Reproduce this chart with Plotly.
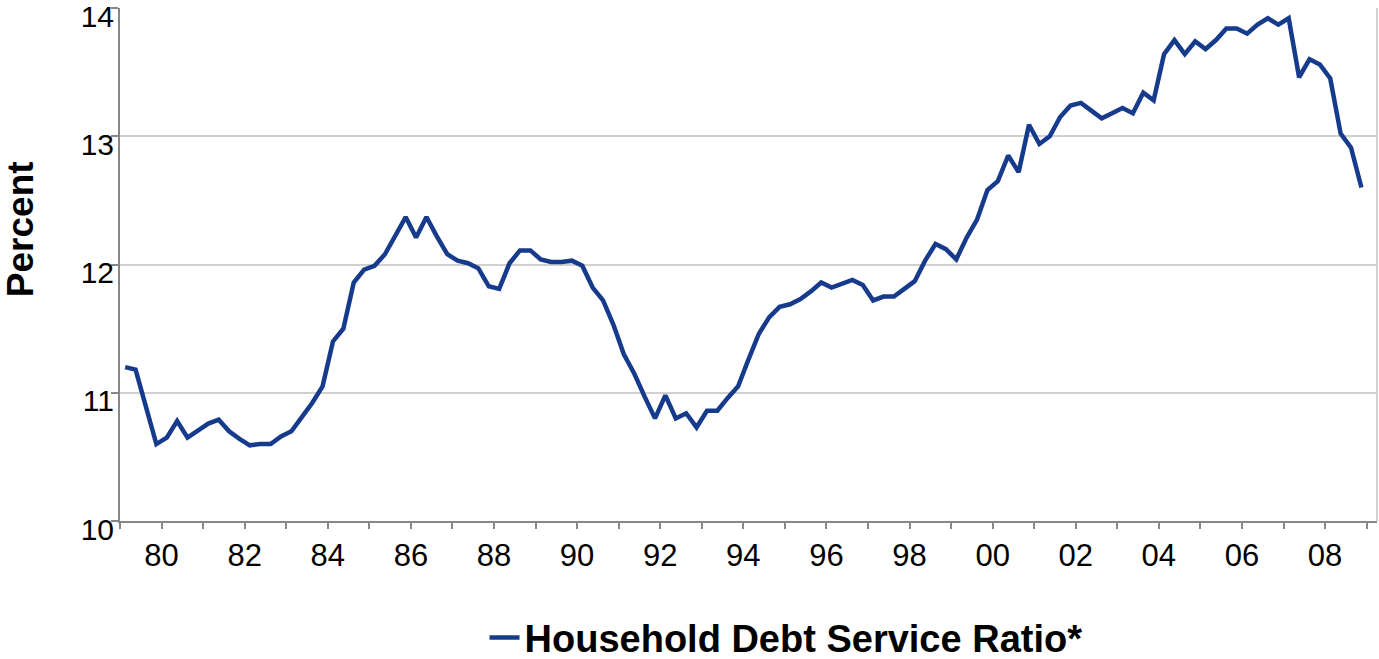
import plotly.graph_objects as go

# Household debt service ratio, quarterly, 1979Q1 - 2008Q4 (percent)
start_year = 1979
ratio = [
    11.20, 11.18, 10.89, 10.60, 10.65, 10.78, 10.65, 10.70, 10.76, 10.79,
    10.70, 10.64, 10.59, 10.60, 10.60, 10.66, 10.70, 10.81, 10.92, 11.05,
    11.40, 11.50, 11.86, 11.96, 11.99, 12.08, 12.22, 12.37, 12.21, 12.37,
    12.22, 12.08, 12.03, 12.01, 11.97, 11.83, 11.81, 12.01, 12.11, 12.11,
    12.04, 12.02, 12.02, 12.03, 11.99, 11.82, 11.72, 11.53, 11.30, 11.15,
    10.97, 10.80, 10.98, 10.80, 10.84, 10.73, 10.86, 10.86, 10.96, 11.05,
    11.26, 11.46, 11.59, 11.67, 11.69, 11.73, 11.79, 11.86, 11.82, 11.85,
    11.88, 11.84, 11.72, 11.75, 11.75, 11.81, 11.87, 12.03, 12.16, 12.12,
    12.04, 12.21, 12.35, 12.58, 12.65, 12.85, 12.72, 13.09, 12.94, 13.00,
    13.15, 13.24, 13.26, 13.20, 13.14, 13.18, 13.22, 13.18, 13.34, 13.28,
    13.64, 13.75, 13.64, 13.74, 13.68, 13.75, 13.84, 13.84, 13.80, 13.87,
    13.92, 13.87, 13.92, 13.46, 13.60, 13.56, 13.45, 13.02, 12.91, 12.60,
]
# quarter mid-points on a continuous year scale
quarter_x = [start_year + (i + 0.5) / 4 for i in range(len(ratio))]

# x-axis: a tick every year, labels on even years
tick_years = list(range(1979, 2010))
tick_labels = [f"{y % 100:02d}" if y % 2 == 0 else "" for y in tick_years]

y_ticks = [10, 11, 12, 13, 14]

series_name = "Household Debt Service Ratio*"
line_color = "#163a8c"
axis_color = "#878787"
grid_color = "#d0d0d0"
font_family = "Arial, Liberation Sans, sans-serif"

fig = go.Figure()
fig.add_trace(go.Scatter(
    x=quarter_x,
    y=ratio,
    mode="lines",
    name=f"<b>{series_name}</b>",
    line=dict(color=line_color, width=4.5),
))

fig.update_layout(
    width=1379,
    height=659,
    margin=dict(l=120, r=2, t=8, b=138, autoexpand=False),
    paper_bgcolor="white",
    plot_bgcolor="white",
    font=dict(family=font_family, color="black"),
    showlegend=True,
    legend=dict(
        orientation="h",
        x=0.29,
        xanchor="left",
        xref="paper",
        y=0.032,
        yanchor="middle",
        yref="container",
        font=dict(size=38, family=font_family, color="black"),
        itemwidth=30,
    ),
    xaxis=dict(
        range=[1979, 2009.25],
        tickmode="array",
        tickvals=tick_years,
        ticktext=tick_labels,
        ticks="outside",
        ticklen=6,
        tickwidth=2,
        tickcolor=axis_color,
        showline=True,
        linecolor=axis_color,
        linewidth=2,
        showgrid=False,
        zeroline=False,
        automargin=False,
        ticklabelstandoff=0,
        tickfont=dict(size=31, family=font_family, color="black"),
    ),
    yaxis=dict(
        range=[10, 14],
        tickvals=y_ticks,
        ticktext=[str(v) for v in y_ticks],
        ticks="outside",
        ticklen=7,
        tickwidth=2,
        tickcolor=axis_color,
        showline=True,
        linecolor=axis_color,
        linewidth=2,
        showgrid=True,
        gridcolor=grid_color,
        gridwidth=2,
        zeroline=False,
        automargin=False,
        ticklabeloverflow="allow",
        ticklabelstandoff=-9,
        ticklabelshift=8,
        tickfont=dict(size=30, family=font_family, color="black"),
    ),
    annotations=[
        dict(
            text="<b>Percent</b>",
            textangle=-90,
            xref="paper",
            yref="paper",
            x=-0.0795,
            y=0.569,
            xanchor="center",
            yanchor="middle",
            showarrow=False,
            font=dict(size=37, family=font_family, color="black"),
        )
    ],
    shapes=[
        # right-hand frame line of the plot area
        dict(
            type="line",
            xref="paper",
            yref="paper",
            x0=1, x1=1, y0=0, y1=1,
            line=dict(color=grid_color, width=2),
        )
    ],
)

fig.write_html("out.html")
